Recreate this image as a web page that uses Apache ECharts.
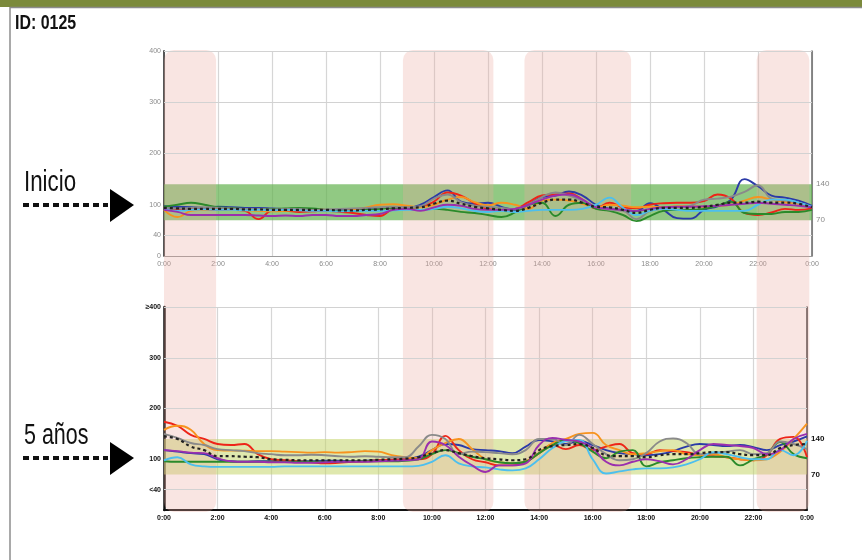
<!DOCTYPE html>
<html>
<head>
<meta charset="utf-8">
<script src="https://cdn.jsdelivr.net/npm/echarts@6/dist/echarts.min.js"></script>
<style>
  html, body { margin: 0; padding: 0; background: #fff; }
  #c { width: 862px; height: 560px; }
</style>
</head>
<body>
<div id="c"></div>
<script>
// Time of day (hours), sampled every 30 minutes
const hours = [0,0.5,1,1.5,2,2.5,3,3.5,4,4.5,5,5.5,6,6.5,7,7.5,8,8.5,9,9.5,10,10.5,11,11.5,12,12.5,13,13.5,14,14.5,15,15.5,16,16.5,17,17.5,18,18.5,19,19.5,20,20.5,21,21.5,22,22.5,23,23.5,24];
const timeLabels = ['0:00','2:00','4:00','6:00','8:00','10:00','12:00','14:00','16:00','18:00','20:00','22:00','0:00'];

// Glucose (mg/dL) — "Inicio" panel, one array per monitored day
const inicioAzul    = [97,96,95,94,96,95,94,94,93,92,92,91,90,90,91,92,94,95,94,100,115,128,106,102,104,96,90,100,115,118,126,118,100,92,90,88,103,90,74,73,90,97,110,150,136,118,114,108,98];
const inicioRojo    = [92,90,92,91,90,90,88,72,88,88,86,87,88,86,84,80,78,92,94,96,106,124,118,103,92,90,92,105,118,120,122,110,93,104,95,93,100,103,104,104,107,120,112,84,80,85,92,90,93];
const inicioNaranja = [90,76,88,90,92,90,89,88,87,88,90,92,90,88,90,95,100,101,98,95,100,110,115,105,99,104,100,92,108,110,108,102,95,100,98,95,96,95,97,97,96,98,100,108,115,110,105,102,95];
const inicioVerde   = [96,100,104,100,95,94,92,92,92,93,94,93,90,88,88,90,92,94,92,90,92,90,86,84,80,76,85,100,104,78,100,104,92,88,80,68,78,88,90,90,92,98,106,84,82,82,86,86,90];
const inicioGris    = [94,93,94,95,94,93,92,92,91,92,92,90,91,92,93,94,95,96,95,97,112,120,105,98,96,94,92,100,115,124,118,108,96,90,88,72,88,92,95,98,110,112,116,125,138,112,108,104,95];
const inicioCian    = [92,88,90,91,90,90,89,90,89,90,89,88,88,87,88,88,88,89,90,90,92,96,93,88,86,88,86,88,90,90,90,92,100,114,94,80,88,92,90,88,88,88,88,88,100,110,110,104,96];
const inicioMorado  = [90,86,80,80,80,80,80,79,78,79,78,80,80,78,78,80,82,90,92,88,95,100,98,92,90,90,92,100,110,118,120,110,95,92,90,88,92,95,96,96,97,98,100,102,104,102,100,98,95];
const inicioMedia   = [94,93,92,92,92,92,91,91,90,90,90,90,90,89,89,90,91,93,94,95,102,108,102,96,93,90,88,94,104,110,110,104,96,95,90,84,90,94,94,94,96,100,104,104,106,104,104,102,95];

// Glucose (mg/dL) — "5 años" panel
const anosAzul    = [118,115,112,110,100,96,95,96,96,97,96,96,97,97,96,97,98,99,100,105,118,130,128,120,118,116,112,125,138,135,130,136,128,118,112,110,108,110,116,125,130,128,126,128,124,118,128,135,145];
const anosRojo    = [174,166,148,140,130,128,130,110,100,98,96,94,92,93,95,96,98,99,100,100,110,146,118,100,94,88,88,95,112,128,120,128,118,125,130,112,110,118,116,114,108,106,104,100,98,108,140,144,104];
const anosNaranja = [158,166,158,130,118,117,117,116,116,115,114,113,114,113,114,116,115,108,104,102,118,132,140,120,100,94,92,96,112,132,140,150,152,128,118,110,112,116,118,110,108,110,104,100,98,100,115,140,170];
const anosVerde   = [96,95,95,95,95,95,95,95,95,95,95,95,95,95,96,96,96,96,97,100,110,118,112,105,100,94,92,95,112,128,138,132,115,102,115,118,86,94,98,102,104,105,105,88,100,110,134,110,102];
const anosGris    = [150,142,132,128,120,118,116,112,110,108,108,109,108,106,105,106,105,104,104,125,148,140,110,115,114,112,110,118,140,140,128,148,130,110,98,100,112,135,141,132,110,112,115,118,110,112,135,130,120];
const anosCian    = [98,104,90,86,85,85,85,85,85,86,86,86,86,86,86,86,86,86,86,87,95,108,92,86,84,80,78,82,100,122,136,138,100,72,76,80,82,82,84,90,100,114,110,104,100,100,118,108,136];
const anosMorado  = [118,116,113,112,102,96,95,95,94,94,93,93,94,95,95,95,96,97,98,100,135,128,105,88,75,88,88,92,128,142,138,135,122,95,88,95,100,96,90,100,118,130,128,126,122,110,118,140,150];
const anosMedia   = [145,140,125,118,106,106,105,104,100,99,98,98,98,98,98,98,99,100,101,104,112,118,112,106,102,100,98,100,118,126,128,130,122,108,106,106,104,108,110,110,112,114,114,110,108,108,122,128,130];

// Target range and shaded meal / night periods (hours)
const targetRange = [70, 140];
const shadedPeriods = [[0, 1.93], [8.85, 12.2], [13.35, 17.3], [21.95, 23.9]];
const yTicks = [0, 40, 100, 200, 300, 400];
const gridTicks = [40, 200, 300, 400];

const traceNames  = ['azul','rojo','naranja','verde','gris','cian','morado','media'];
const traceColors = ['#2b3aa8','#ee2418','#f7931e','#2a8a2a','#8a8a8a','#4cbfee','#9a2fae','#222222'];
const inicioSets = [inicioAzul, inicioRojo, inicioNaranja, inicioVerde, inicioGris, inicioCian, inicioMorado, inicioMedia];
const anosSets   = [anosAzul, anosRojo, anosNaranja, anosVerde, anosGris, anosCian, anosMorado, anosMedia];

const FONT = '"Liberation Sans",Arial,sans-serif';

const chart = echarts.init(document.getElementById('c'), null, { renderer: 'canvas' });

function traceSeries(sets, g) {
  return sets.map((vals, i) => {
    const mean = traceNames[i] === 'media';
    return {
      type: 'line',
      name: traceNames[i] + (g ? '-5' : '-0'),
      xAxisIndex: g, yAxisIndex: g * 2,
      data: hours.map((h, k) => [h, vals[k]]),
      smooth: 0.45, showSymbol: false, symbol: 'none',
      lineStyle: { color: traceColors[i], width: mean ? 2.2 : 1.9, type: mean ? [3, 3] : 'solid' },
      z: mean ? 5 : 4, silent: true
    };
  });
}

function rangeSeries(g, color, gridColor) {
  return {
    type: 'line', name: 'rango-' + g, xAxisIndex: g, yAxisIndex: g * 2, data: [], z: 3, silent: true,
    markArea: {
      silent: true,
      itemStyle: { color: color },
      data: [[{ yAxis: targetRange[0] }, { yAxis: targetRange[1] }]]
    },
    markLine: {
      silent: true, symbol: ['none', 'none'], label: { show: false },
      lineStyle: { color: gridColor, width: 1.2, type: 'solid' },
      data: gridTicks.map(v => ({ yAxis: v }))
    }
  };
}

function xAxis(g, top) {
  return {
    type: 'value', gridIndex: g, min: 0, max: 24, interval: 2,
    axisLine: { show: true, onZero: false, lineStyle: { color: top ? '#9a9a9a' : '#111', width: top ? 1.2 : 2 } },
    axisTick: { show: false },
    splitLine: { show: true, lineStyle: { color: '#d6d6d6', width: 1.2 } },
    axisLabel: {
      margin: 5, fontSize: 7, fontFamily: FONT,
      color: top ? '#8a8a8a' : '#111', fontWeight: top ? 'normal' : 'bold',
      formatter: v => timeLabels[Math.round(v / 2)]
    }
  };
}

function leftAxis(g, top) {
  return {
    type: 'value', gridIndex: g, min: 0, max: 400, interval: 20, position: 'left',
    axisLine: { show: true, lineStyle: { color: top ? '#555' : '#111', width: top ? 2 : 2.5 } },
    axisTick: { show: false }, splitLine: { show: false },
    axisLabel: {
      margin: 3, fontSize: 7, fontFamily: FONT,
      color: top ? '#8a8a8a' : '#111', fontWeight: top ? 'normal' : 'bold',
      formatter: v => {
        if (!yTicks.includes(v)) return '';
        if (top) return String(v);
        if (v === 400) return '≥400';
        if (v === 40) return '<40';
        if (v === 0) return '';
        return String(v);
      }
    }
  };
}

function rightAxis(g, top) {
  return {
    type: 'value', gridIndex: g, min: 0, max: 400, interval: 70, position: 'right',
    axisLine: { show: true, lineStyle: { color: top ? '#666' : '#333', width: 1.5 } },
    axisTick: { show: false }, splitLine: { show: false },
    axisLabel: {
      margin: 4, fontSize: 8, fontFamily: FONT,
      color: top ? '#8a8a8a' : '#111', fontWeight: top ? 'normal' : 'bold',
      formatter: v => targetRange.includes(v) ? String(v) : ''
    }
  };
}

chart.setOption({
  animation: false,
  backgroundColor: '#fff',
  grid: [
    { left: 164, top: 51, width: 648, height: 205 },
    { left: 164, top: 307, width: 643, height: 203 }
  ],
  xAxis: [xAxis(0, true), xAxis(1, false)],
  yAxis: [leftAxis(0, true), rightAxis(0, true), leftAxis(1, false), rightAxis(1, false)],
  series: [
    rangeSeries(0, 'rgba(98,178,78,0.7)', '#d2d2d2'),
    rangeSeries(1, 'rgba(196,214,108,0.55)', '#d2d2d2'),
    ...traceSeries(inicioSets, 0),
    ...traceSeries(anosSets, 1)
  ]
});

// Shaded periods span both panels; place them with the top panel's time scale
const bandTop = chart.convertToPixel({ yAxisIndex: 0 }, 400) - 1;
const bandBottom = chart.convertToPixel({ yAxisIndex: 2 }, 0) + 2;
const bands = shadedPeriods.map(p => {
  const x0 = chart.convertToPixel({ xAxisIndex: 0 }, p[0]);
  const x1 = chart.convertToPixel({ xAxisIndex: 0 }, p[1]);
  return {
    type: 'rect', z: 1, silent: true,
    shape: { x: x0, y: bandTop, width: x1 - x0, height: bandBottom - bandTop, r: 10 },
    style: { fill: 'rgba(236,168,158,0.3)' }
  };
});

// Condensed captions: regular face squeezed horizontally
function caption(text, x, y, size, weight, squeeze) {
  return {
    type: 'text', z: 10, x: x, y: y, scaleX: squeeze, scaleY: 1,
    style: { text: text, font: weight + ' ' + size + 'px ' + FONT, fill: '#111', verticalAlign: 'top', align: 'left' }
  };
}

function arrow(y) {
  return [
    { type: 'line', z: 10, shape: { x1: 23, y1: y, x2: 108, y2: y },
      style: { stroke: '#111', lineWidth: 4, lineDash: [6, 4] } },
    { type: 'polygon', z: 10, shape: { points: [[110, y - 16], [110, y + 17], [134, y]] },
      style: { fill: '#000' } }
  ];
}

chart.setOption({
  graphic: [
    { type: 'rect', z: 10, shape: { x: 0, y: 0, width: 862, height: 7 }, style: { fill: '#7b8a3b' } },
    { type: 'line', z: 10, shape: { x1: 10, y1: 7.5, x2: 862, y2: 7.5 }, style: { stroke: '#8c8c8c', lineWidth: 1.5 } },
    { type: 'line', z: 10, shape: { x1: 10, y1: 7, x2: 10, y2: 560 }, style: { stroke: '#8c8c8c', lineWidth: 1.5 } },
    caption('ID: 0125', 15, 13, 21, 'bold', 0.76),
    caption('Inicio', 24, 168, 29, 'normal', 0.77),
    caption('5 años', 24, 421, 29, 'normal', 0.74),
    ...arrow(205),
    ...arrow(458),
    ...bands
  ]
});
</script>
</body>
</html>
